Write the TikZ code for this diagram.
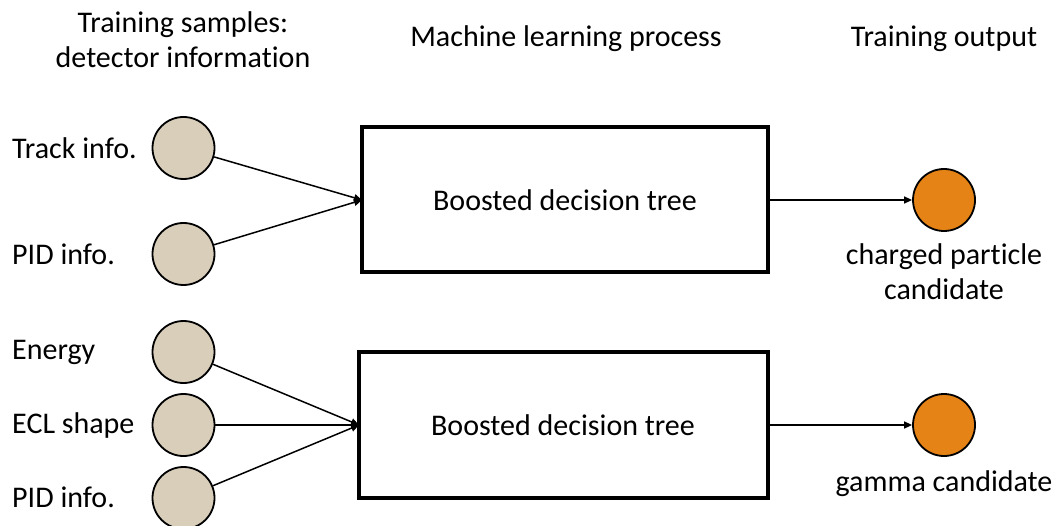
\documentclass[tikz,border=0pt]{standalone}
\usepackage{fontspec}
\setmainfont{Carlito}[Ligatures={NoCommon}]
\usetikzlibrary{arrows.meta}
\definecolor{inbeige}{RGB}{217,206,186}
\definecolor{outorange}{RGB}{230,131,22}
\tikzset{
  x=1pt, y=-1pt,
  txt/.style={font=\fontsize{30}{35}\selectfont, inner sep=0pt, align=center},
  lbl/.style={font=\fontsize{30}{35}\selectfont, inner sep=0pt, anchor=west},
  feat/.style={circle, draw=black, line width=1.8pt, fill=inbeige, minimum size=62pt, inner sep=0pt},
  outc/.style={circle, draw=black, line width=1.8pt, fill=outorange, minimum size=62pt, inner sep=0pt},
  bdt/.style={draw=black, line width=3.2pt, inner sep=0pt},
  conn/.style={line width=1.5pt, -{Triangle[length=8pt,width=7pt]}}
}
\begin{document}
\begin{tikzpicture}
\useasboundingbox (0,0) rectangle (1059,526);

% column headings
\node[txt] (h1) at (183,40) {Training samples:\\detector information};
\node[txt] (h2) at (566,39) {Machine learning process};
\node[txt] (h3) at (944,39) {Training output};

% upper classifier
\node[feat] (t1) at (183.5,148) {};
\node[feat] (t2) at (183.5,254) {};
\node[lbl] (lt1) at (12,148) {Track info.};
\node[lbl] (lt2) at (12,254) {PID info.};
\draw[bdt] (362,127) rectangle (768,272);
\node[txt] (b1) at (565,200) {Boosted decision tree};
\coordinate (b1in) at (362,200);
\coordinate (b1out) at (768,200);
\node[outc] (o1) at (944,200) {};
\node[txt] (lo1) at (944,272) {charged particle\\candidate};
\draw[conn] (t1) -- (b1in);
\draw[conn] (t2) -- (b1in);
\draw[conn] (b1out) -- (o1);

% lower classifier
\node[feat] (s1) at (183.5,352) {};
\node[feat] (s2) at (183.5,425) {};
\node[feat] (s3) at (183.5,498) {};
\node[lbl] (ls1) at (12,352) {Energy};
\node[lbl] (ls2) at (12,425) {ECL shape};
\node[lbl] (ls3) at (12,497) {PID info.};
\draw[bdt] (359,352) rectangle (768,498);
\node[txt] (b2) at (563,425) {Boosted decision tree};
\coordinate (b2in) at (359,425);
\coordinate (b2out) at (768,425);
\node[outc] (o2) at (944,425) {};
\node[txt] (lo2) at (944,484) {gamma candidate};
\draw[conn] (s1) -- (b2in);
\draw[conn] (s2) -- (b2in);
\draw[conn] (s3) -- (b2in);
\draw[conn] (b2out) -- (o2);
\end{tikzpicture}
\end{document}
